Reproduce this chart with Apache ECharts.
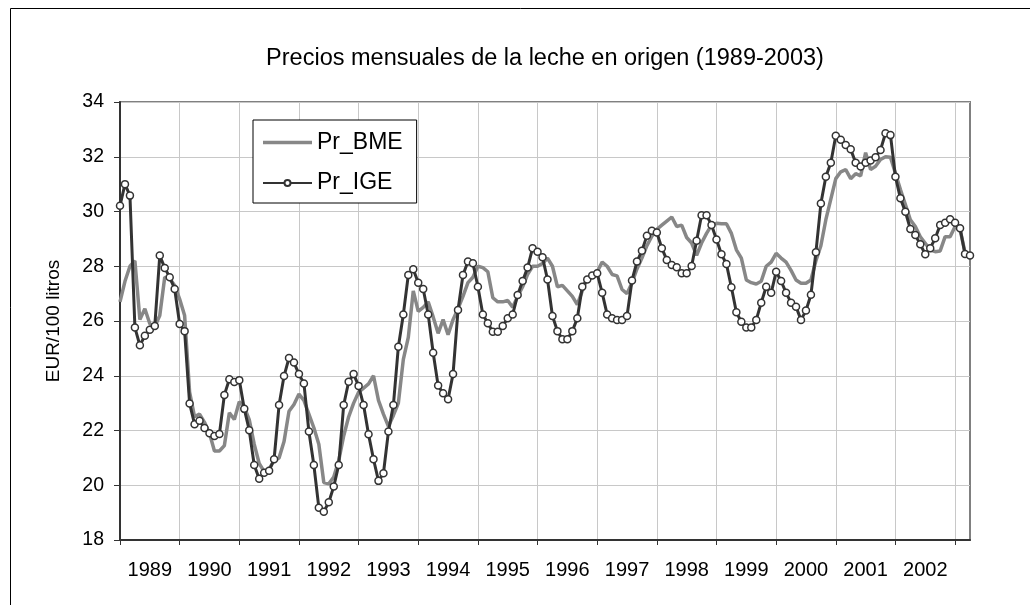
<!DOCTYPE html>
<html>
<head>
<meta charset="utf-8">
<title>Precios mensuales de la leche en origen</title>
<script src="https://cdn.jsdelivr.net/npm/echarts@6/dist/echarts.min.js"></script>
<style>
  html, body { margin: 0; padding: 0; background: #fff; }
  #chart { width: 1030px; height: 605px; }
</style>
</head>
<body>
<div id="chart"></div>
<script>
// monthly series, Jan 1989 .. Apr 2003
const years = [1989, 1990, 1991, 1992, 1993, 1994, 1995, 1996, 1997, 1998, 1999, 2000, 2001, 2002, 2003];
const months = ['01', '02', '03', '04', '05', '06', '07', '08', '09', '10', '11', '12'];

const prBME = [
  26.7, 27.45, 28.0, 28.2, 26.05, 26.45, 25.9, 25.8, 26.2, 27.6, 27.55, 27.3,
  26.8, 26.2, 23.4, 22.5, 22.6, 22.3, 21.9, 21.25, 21.25, 21.45, 22.65, 22.4,
  23.05, 22.85, 22.4, 21.5, 20.8, 20.5, 20.6, 20.9, 21.0, 21.6, 22.7, 22.95,
  23.33, 23.1, 22.6, 22.1, 21.5, 20.1, 20.05, 20.3, 20.9, 21.8, 22.5, 23.0,
  23.4, 23.55, 23.7, 24.0, 23.1, 22.6, 22.15, 22.55, 23.0, 24.6, 25.4, 27.1,
  26.35, 26.5, 26.7, 26.15, 25.55, 26.05, 25.5, 26.05, 26.45, 26.9, 27.4, 27.6,
  28.0, 27.95, 27.8, 26.85, 26.7, 26.7, 26.75, 26.5, 26.9, 27.25, 27.7, 28.0,
  28.0, 28.1, 28.3, 28.0, 27.25, 27.3, 27.1, 26.9, 26.6, 27.1, 27.55, 27.6,
  27.8, 28.15, 28.0, 27.7, 27.65, 27.15, 27.0, 27.4, 27.9, 28.3, 28.75, 29.1,
  29.35, 29.5, 29.65, 29.8, 29.45, 29.5, 29.05, 28.85, 28.4, 28.85, 29.2, 29.5,
  29.57, 29.55, 29.55, 29.2, 28.6, 28.3, 27.5, 27.4, 27.35, 27.45, 28.0, 28.15,
  28.47, 28.3, 28.15, 27.85, 27.5, 27.38, 27.38, 27.5, 28.2, 28.75, 29.7, 30.45,
  31.2, 31.45, 31.53, 31.2, 31.38, 31.3, 32.15, 31.53, 31.65, 31.9, 32.0, 31.98,
  31.4, 30.8, 30.25, 29.7, 29.45, 29.08, 28.84, 28.6, 28.53, 28.56, 29.08, 29.08,
  29.45, 29.35, 28.5, 28.4
];

const prIGE = [
  30.21, 31.0, 30.58, 25.76, 25.11, 25.46, 25.68, 25.82, 28.39, 27.94, 27.6, 27.17,
  25.89, 25.63, 22.99, 22.23, 22.36, 22.09, 21.9, 21.8, 21.87, 23.3, 23.87, 23.77,
  23.84, 22.79, 22.01, 20.74, 20.24, 20.46, 20.53, 20.95, 22.93, 23.99, 24.65, 24.48,
  24.06, 23.72, 21.96, 20.74, 19.18, 19.03, 19.38, 19.95, 20.74, 22.93, 23.78, 24.06,
  23.63, 22.93, 21.86, 20.95, 20.16, 20.44, 21.96, 22.93, 25.06, 26.24, 27.68, 27.89,
  27.4, 27.17, 26.24, 24.84, 23.64, 23.36, 23.14, 24.06, 26.4, 27.68, 28.17, 28.11,
  27.25, 26.24, 25.92, 25.61, 25.61, 25.82, 26.1, 26.24, 26.95, 27.46, 27.95, 28.66,
  28.53, 28.33, 27.52, 26.18, 25.63, 25.33, 25.33, 25.63, 26.1, 27.25, 27.52, 27.66,
  27.74, 27.03, 26.24, 26.1, 26.04, 26.04, 26.18, 27.48, 28.17, 28.57, 29.11, 29.3,
  29.23, 28.66, 28.23, 28.05, 27.96, 27.74, 27.74, 28.01, 28.93, 29.86, 29.86, 29.51,
  28.98, 28.44, 28.08, 27.23, 26.32, 25.97, 25.76, 25.76, 26.04, 26.67, 27.25, 27.03,
  27.8, 27.46, 27.03, 26.67, 26.52, 26.04, 26.38, 26.96, 28.51, 30.29, 31.27, 31.78,
  32.77, 32.62, 32.43, 32.27, 31.78, 31.64, 31.78, 31.86, 31.98, 32.25, 32.86, 32.79,
  31.27, 30.48, 29.99, 29.36, 29.14, 28.8, 28.44, 28.66, 29.02, 29.51, 29.59, 29.72,
  29.59, 29.39, 28.45, 28.39
];

const yTicks = { min: 18, max: 34, step: 2 };

const categories = [];
years.forEach(y => months.forEach(m => categories.push(y + '-' + m)));
categories.length = prIGE.length;

const FONT = "'Liberation Sans', Arial, sans-serif";

const chart = echarts.init(document.getElementById('chart'));
chart.setOption({
  animation: false,
  backgroundColor: '#fff',
  textStyle: { fontFamily: FONT },
  title: {
    text: 'Precios mensuales de la leche en origen (1989-2003)',
    left: 545,
    textAlign: 'center',
    top: 47,
    padding: 0,
    textStyle: { fontFamily: FONT, fontSize: 23.5, fontWeight: 'normal', color: '#000' }
  },
  graphic: [{
    type: 'rect',
    shape: { x: 10.5, y: 8.5, width: 1200, height: 800 },
    style: { fill: null, stroke: '#000', lineWidth: 1 },
    silent: true,
    z: -10
  }],
  legend: {
    orient: 'vertical',
    left: 253,
    top: 120,
    padding: [11, 14, 8.5, 9],
    itemGap: 17.5,
    itemWidth: 49,
    itemHeight: 7.5,
    backgroundColor: '#fff',
    borderColor: '#000',
    borderWidth: 1,
    textStyle: { fontFamily: FONT, fontSize: 23, color: '#000', lineHeight: 22 },
    data: [
      { name: 'Pr_BME', icon: 'path://M0,0H49V3.5H0Z' },
      { name: 'Pr_IGE' }
    ]
  },
  grid: {
    left: 120, top: 102, width: 850, height: 438,
    show: true, borderColor: '#808080', borderWidth: 2, backgroundColor: '#fff'
  },
  xAxis: {
    type: 'category',
    data: categories,
    boundaryGap: false,
    axisLine: { lineStyle: { color: '#333', width: 2 } },
    axisTick: {
      interval: idx => idx % 12 === 0,
      length: 5,
      lineStyle: { color: '#333', width: 1 }
    },
    axisLabel: {
      interval: idx => idx % 12 === 6,
      formatter: v => v.slice(0, 4),
      margin: 20,
      fontFamily: FONT,
      fontSize: 20,
      color: '#000'
    },
    splitLine: {
      show: true,
      interval: idx => idx % 12 === 0,
      lineStyle: { color: '#c8c8c8', width: 1 }
    }
  },
  yAxis: {
    type: 'value',
    min: yTicks.min,
    max: yTicks.max,
    interval: yTicks.step,
    name: 'EUR/100 litros',
    nameLocation: 'middle',
    nameRotate: 90,
    nameGap: 57,
    nameTextStyle: { fontFamily: FONT, fontSize: 19, color: '#000' },
    axisLine: { show: true, lineStyle: { color: '#333', width: 2 } },
    axisTick: { show: true, length: 6, lineStyle: { color: '#333', width: 1 } },
    axisLabel: { margin: 16, fontFamily: FONT, fontSize: 19.5, color: '#000' },
    splitLine: { lineStyle: { color: '#c8c8c8', width: 1 } }
  },
  series: [
    {
      name: 'Pr_BME',
      type: 'line',
      data: prBME,
      symbol: 'none',
      z: 2,
      color: '#878787',
      lineStyle: { color: '#878787', width: 3.5 }
    },
    {
      name: 'Pr_IGE',
      type: 'line',
      data: prIGE,
      symbol: 'circle',
      symbolSize: 7,
      showAllSymbol: true,
      z: 3,
      color: '#333',
      lineStyle: { color: '#333', width: 3 },
      itemStyle: { color: '#fff', borderColor: '#333', borderWidth: 1.5 }
    }
  ]
});
</script>
</body>
</html>
